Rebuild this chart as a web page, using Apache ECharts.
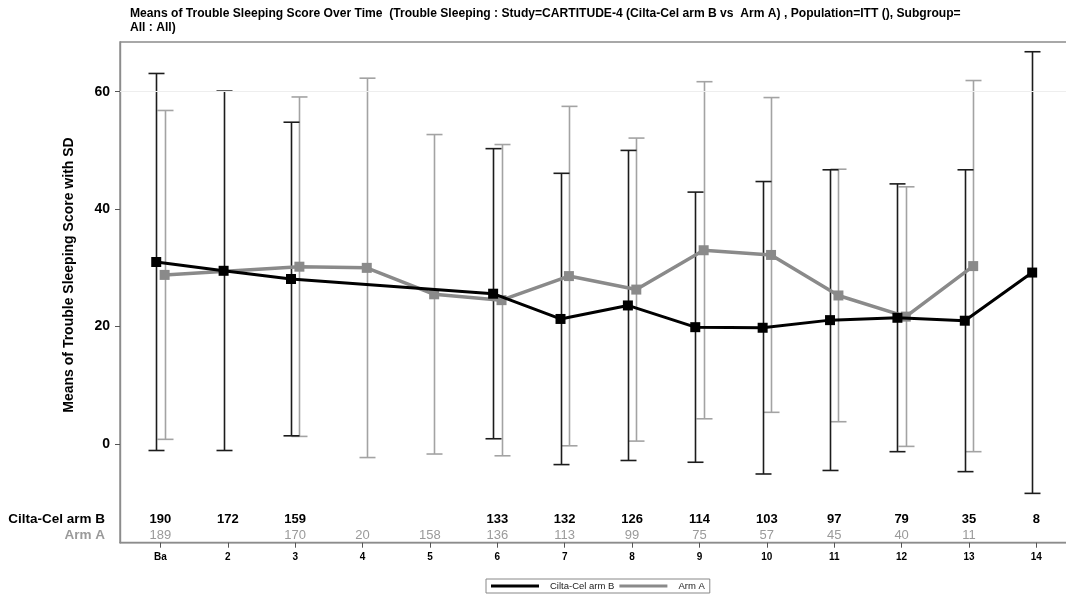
<!DOCTYPE html>
<html>
<head>
<meta charset="utf-8">
<script src="https://cdn.jsdelivr.net/npm/echarts@6/dist/echarts.min.js"></script>
<style>
  html, body { margin: 0; padding: 0; background: #fff; }
  #chart { width: 1066px; height: 596px; }
</style>
</head>
<body>
<div id="chart"></div>
<script>
// Visit labels along the time axis
const visits = ['Ba', '2', '3', '4', '5', '6', '7', '8', '9', '10', '11', '12', '13', '14'];

// Cilta-Cel arm B: mean score, SD and number of subjects per visit
const armBMean = [31.0, 29.5, 28.1, null, null, 25.6, 21.3, 23.6, 19.9, 19.8, 21.1, 21.5, 21.0, 29.2];
const armBSD   = [32.1, 30.6, 26.7, null, null, 24.7, 24.8, 26.4, 23.0, 24.9, 25.6, 22.8, 25.7, 37.6];
const armBN    = [190, 172, 159, null, null, 133, 132, 126, 114, 103, 97, 79, 35, 8];

// Arm A: mean score, SD and number of subjects per visit
const armAMean = [28.8, null, 30.2, 30.0, 25.5, 24.5, 28.6, 26.3, 33.0, 32.2, 25.3, 21.7, 30.3, null];
const armASD   = [28.0, null, 28.9, 32.3, 27.2, 26.5, 28.9, 25.8, 28.7, 26.8, 21.5, 22.1, 31.6, null];
const armAN    = [189, null, 170, 20, 158, 136, 113, 99, 75, 57, 45, 40, 11, null];

const yTicks = [0, 20, 40, 60];

const FONT = '"Liberation Sans", Arial, Helvetica, sans-serif';
const BLACK = '#000000';
const GREY = '#8a8a8a';
const BAR_BLACK = '#1c1c1c';
const BAR_GREY = '#a3a3a3';

// Layout of the plotting area
const GRID_LEFT = 120;
const X_MIN = 0.4, X_MAX = 14.6;
const UNIT_PX = 67.38;                       // width of one visit step
const GRID_WIDTH = (X_MAX - X_MIN) * UNIT_PX;
const CLUSTER_DX = 4.2 / UNIT_PX;            // side-by-side shift of the two arms

const chart = echarts.init(document.getElementById('chart'), null, { renderer: 'canvas' });

function meanPoints(mean, dx) {
  return mean.map((m, i) => [i + 1 + dx, m]);
}

function sdBarSeries(id, mean, sd, color, dx) {
  const data = [];
  mean.forEach((m, i) => {
    if (m != null) data.push([i + 1 + dx, m - sd[i], m + sd[i]]);
  });
  return {
    id: id,
    type: 'custom',
    silent: true,
    z: 2,
    data: data,
    encode: { x: 0, y: [1, 2] },
    renderItem: function (params, api) {
      const lo = api.coord([api.value(0), api.value(1)]);
      const hi = api.coord([api.value(0), api.value(2)]);
      const x = Math.round(lo[0]) + 0.5;
      const cap = 8;
      const st = { stroke: color, lineWidth: 1.6 };
      return {
        type: 'group',
        children: [
          { type: 'line', shape: { x1: x, y1: lo[1], x2: x, y2: hi[1] }, style: st },
          { type: 'line', shape: { x1: x - cap, y1: lo[1], x2: x + cap, y2: lo[1] }, style: st },
          { type: 'line', shape: { x1: x - cap, y1: hi[1], x2: x + cap, y2: hi[1] }, style: st }
        ]
      };
    }
  };
}

// Subject counts printed just above the time axis
function countSeries(id, counts, color, weight, rowOffset) {
  const data = [];
  counts.forEach((n, i) => { if (n != null) data.push([i + 1, 0, n]); });
  return {
    id: id,
    type: 'custom',
    silent: true,
    z: 5,
    data: data,
    encode: { x: 0, y: 1 },
    clip: false,
    renderItem: function (params, api) {
      const p = api.coord([api.value(0), 0]);
      const cs = params.coordSys;
      return {
        type: 'text',
        x: p[0],
        y: cs.y + cs.height - rowOffset,
        style: {
          text: String(api.value(2)),
          fill: color,
          font: weight + ' 13px ' + FONT,
          align: 'center',
          verticalAlign: 'middle'
        }
      };
    }
  };
}

const option = {
  animation: false,
  backgroundColor: '#ffffff',
  textStyle: { fontFamily: FONT },
  title: {
    text: 'Means of Trouble Sleeping Score Over Time  (Trouble Sleeping : Study=CARTITUDE-4 (Cilta-Cel arm B vs  Arm A) , Population=ITT (), Subgroup=\nAll : All)',
    left: 130,
    top: 7,
    padding: 0,
    textStyle: { fontFamily: FONT, fontSize: 12.1, fontWeight: 'bold', color: '#000', lineHeight: 14 }
  },
  legend: {
    data: [
      { name: 'Cilta-Cel arm B', icon: 'rect' },
      { name: 'Arm A', icon: 'rect' }
    ],
    left: 486,
    top: 579,
    padding: [2, 5, 2, 5],
    itemWidth: 48,
    itemHeight: 3,
    itemGap: 5,
    borderColor: '#888',
    borderWidth: 1,
    borderRadius: 0,
    selectedMode: false,
    textStyle: { fontFamily: FONT, fontSize: 9.5, color: '#222', padding: [0, 0, 0, 6] }
  },
  grid: {
    left: GRID_LEFT,
    top: 42,
    width: GRID_WIDTH,
    height: 500.7,
    outerBoundsMode: 'none',
    containLabel: false,
    show: true,
    borderColor: '#8c8c8c',
    borderWidth: 1.4,
    backgroundColor: 'transparent'
  },
  xAxis: {
    type: 'value',
    min: X_MIN,
    max: X_MAX,
    axisLine: { show: true, onZero: false, lineStyle: { color: '#8c8c8c', width: 1.4 } },
    axisTick: { show: true, length: 5, lineStyle: { color: '#555', width: 1 }, customValues: visits.map((v, i) => i + 1) },
    axisLabel: {
      customValues: visits.map((v, i) => i + 1),
      formatter: function (val) { return visits[Math.round(val) - 1] || ''; },
      fontFamily: FONT, fontSize: 10, fontWeight: 'bold', color: '#000', margin: 10
    },
    splitLine: { show: false }
  },
  yAxis: {
    type: 'value',
    min: -16.8,
    max: 68.46,
    axisLine: { show: true, onZero: false, lineStyle: { color: '#8c8c8c', width: 1.4 } },
    axisTick: { show: true, length: 5, lineStyle: { color: '#555', width: 1 }, customValues: yTicks },
    axisLabel: {
      customValues: yTicks,
      fontFamily: FONT, fontSize: 14, fontWeight: 'bold', color: '#000', margin: 10
    },
    splitLine: { show: false }
  },
  graphic: [
    {
      type: 'text',
      x: 69, y: 275,
      rotation: Math.PI / 2,
      style: {
        text: 'Means of Trouble Sleeping Score with SD',
        font: 'bold 14px ' + FONT,
        fill: '#000',
        align: 'center',
        verticalAlign: 'middle'
      }
    },
    {
      type: 'text', x: 105, y: 519,
      style: { text: 'Cilta-Cel arm B', font: 'bold 13.5px ' + FONT, fill: '#000', align: 'right', verticalAlign: 'middle' }
    },
    {
      type: 'text', x: 105, y: 535,
      style: { text: 'Arm A', font: 'bold 13.5px ' + FONT, fill: '#9a9a9a', align: 'right', verticalAlign: 'middle' }
    }
  ],
  series: [
    sdBarSeries('armA-sd', armAMean, armASD, BAR_GREY, CLUSTER_DX),
    sdBarSeries('armB-sd', armBMean, armBSD, BAR_BLACK, -CLUSTER_DX),
    {
      name: 'Arm A',
      type: 'line',
      z: 3,
      data: meanPoints(armAMean, CLUSTER_DX),
      connectNulls: true,
      symbol: 'rect',
      symbolSize: 10,
      lineStyle: { color: GREY, width: 3.5 },
      itemStyle: { color: GREY },
      markLine: {
        silent: true,
        symbol: 'none',
        label: { show: false },
        lineStyle: { color: '#eeeeee', width: 1.2, type: 'solid' },
        data: [{ yAxis: 60 }]
      }
    },
    {
      name: 'Cilta-Cel arm B',
      type: 'line',
      z: 4,
      data: meanPoints(armBMean, -CLUSTER_DX),
      connectNulls: true,
      symbol: 'rect',
      symbolSize: 10,
      lineStyle: { color: BLACK, width: 3 },
      itemStyle: { color: BLACK }
    },
    countSeries('armB-n', armBN, '#000', 'bold', 23.7),
    countSeries('armA-n', armAN, '#9a9a9a', 'normal', 7.7)
  ]
};

chart.setOption(option);
</script>
</body>
</html>
